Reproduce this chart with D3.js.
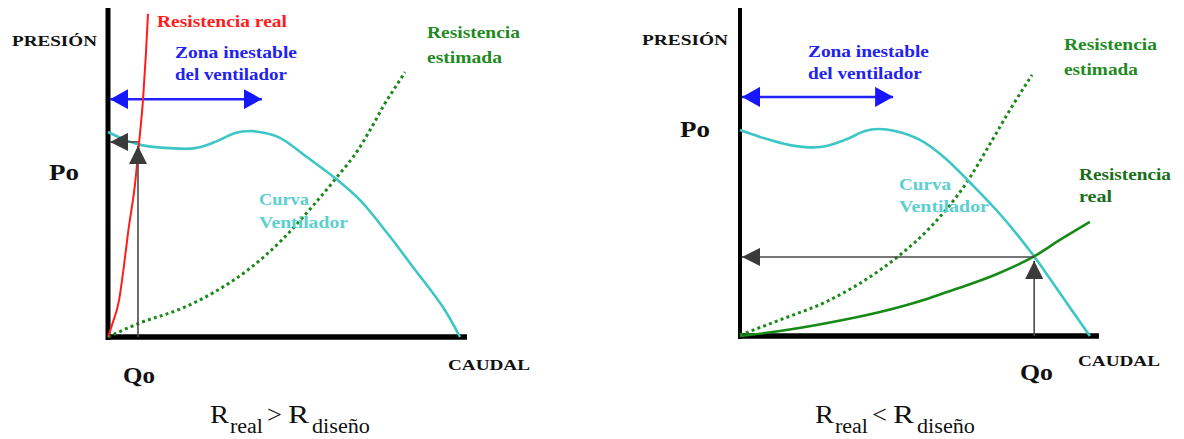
<!DOCTYPE html>
<html>
<head>
<meta charset="utf-8">
<script src="https://cdn.jsdelivr.net/npm/d3@7"></script>
<style>
  html, body { margin: 0; padding: 0; background: #fff; }
  svg { display: block; }
</style>
</head>
<body>
<div id="chart"></div>
<script>
// curves, x = caudal (0-100), y = presion (0-100)
const leftFan = [[0,62.3],[4.8,59.9],[9,58.4],[17.4,57.4],[24.4,57.4],[30,59.3],[35.6,62],[39.8,62.6],[44,62],[48.2,60.5],[55.7,54.7],[63.6,48.3],[70.6,41.6],[78.2,31.6],[85.4,21.3],[93.8,9.1],[98.6,0]];
const leftEstimated = [[0,0],[4.2,2.1],[9,4.3],[20.2,8.5],[29.4,13.4],[39.2,20.4],[48.7,29.5],[57.1,39.5],[63.9,48.3],[70,56.8],[74.5,65],[77.3,70.5],[80.7,76.3],[83.2,80.5]];
const leftReal = [[0,0],[1.1,3.6],[3.1,11.2],[4.5,21.9],[5.6,31.6],[7.6,46.8],[8.7,59],[9.8,72],[10.6,85.7],[11.2,98.2]];
const leftOperating = [8.4, 59.3];

const rightFan = [[0,62.8],[5.6,60.7],[14,58.2],[22.4,57.6],[29.4,59.8],[35,62.5],[38.7,63.1],[43.4,62.5],[50.4,59.8],[57.4,54.3],[64.4,46.8],[72.8,37.2],[82.1,24.7],[89.6,13.1],[98,0]];
const rightEstimated = [[0,0.3],[11.2,4.9],[25.2,11],[39.2,20.1],[44.8,24.7],[53.2,33],[63.6,47],[70,58.5],[75.6,68.9],[81.8,79.6]];
const rightReal = [[0,0],[11.2,1.5],[25.2,4.1],[39.2,7.3],[53.2,11.6],[58,13.4],[72,18.9],[82.1,24.1],[89.6,29.3],[98,34.8]];
const rightOperating = [82.4, 24.1];

// zona inestable: from x to x at pressure y
const leftUnstable = [0, 43.1, 72.3];
const rightUnstable = [0, 42.9, 72.9];

const W = 1184, H = 439;
const svg = d3.select("#chart").append("svg")
  .attr("width", W).attr("height", H);

const defs = svg.append("defs");
function marker(id, color, w, h) {
  defs.append("marker")
    .attr("id", id)
    .attr("viewBox", `0 0 ${w} ${h}`)
    .attr("refX", w).attr("refY", h / 2)
    .attr("markerWidth", w).attr("markerHeight", h)
    .attr("markerUnits", "userSpaceOnUse")
    .attr("orient", "auto-start-reverse")
    .append("path")
    .attr("d", `M0,0L${w},${h / 2}L0,${h}Z`)
    .attr("fill", color);
}
marker("blueHead", "#1616ff", 18, 20);
marker("grayHead", "#3a3a3a", 18, 18);

// text stretched horizontally to the width seen in the picture
function label(txt, x, y, size, color, len, weight) {
  const t = svg.append("text")
    .attr("font-size", size)
    .style("font-family", '"Liberation Serif"')
    .style("font-weight", weight || "bold")
    .attr("fill", color)
    .text(txt);
  let sx = 1;
  const w = t.node().getComputedTextLength();
  if (len && w > 0) sx = len / w;
  t.attr("transform", `translate(${x},${y}) scale(${sx.toFixed(3)},1)`);
  return t;
}

function drawPanel(p) {
  const x = d3.scaleLinear().domain([0, 100]).range(p.xRange);
  const y = d3.scaleLinear().domain([0, 100]).range(p.yRange);
  const smooth = d3.line().x(d => x(d[0])).y(d => y(d[1])).curve(d3.curveCatmullRom.alpha(0.5));
  const mono = d3.line().x(d => x(d[0])).y(d => y(d[1])).curve(d3.curveMonotoneX);
  const g = svg.append("g");

  // axes
  g.append("line")
    .attr("x1", x(0)).attr("x2", x(0))
    .attr("y1", p.axisTop).attr("y2", y(0) + 3)
    .attr("stroke", "#000").attr("stroke-width", p.vAxisWidth);
  g.append("line")
    .attr("x1", x(0) - 2).attr("x2", x(100) + 2)
    .attr("y1", y(0)).attr("y2", y(0))
    .attr("stroke", "#000").attr("stroke-width", 5.5);

  // unstable zone arrow
  g.append("line")
    .attr("x1", x(p.unstable[0]) + 2).attr("x2", x(p.unstable[1]))
    .attr("y1", y(p.unstable[2])).attr("y2", y(p.unstable[2]))
    .attr("stroke", "#2222ff").attr("stroke-width", 2.5)
    .attr("marker-start", "url(#blueHead)")
    .attr("marker-end", "url(#blueHead)");

  // estimated resistance (dotted)
  g.append("path").datum(p.estimated)
    .attr("d", mono).attr("fill", "none")
    .attr("stroke", "#1b8a1b").attr("stroke-width", 3)
    .attr("stroke-dasharray", "3,3.2");

  // fan curve
  g.append("path").datum(p.fan)
    .attr("d", smooth).attr("fill", "none")
    .attr("stroke", "#3ec6c6").attr("stroke-width", 2.6);

  // real resistance
  g.append("path").datum(p.real)
    .attr("d", mono).attr("fill", "none")
    .attr("stroke", p.realColor).attr("stroke-width", p.realWidth);

  // operating point arrows
  const [qo, po] = p.operating;
  g.append("line")
    .attr("x1", x(qo)).attr("x2", x(qo))
    .attr("y1", y(0)).attr("y2", y(po) + 4)
    .attr("stroke", "#4a4a4a").attr("stroke-width", 1.6)
    .attr("marker-end", "url(#grayHead)");
  g.append("line")
    .attr("x1", x(qo)).attr("x2", x(0) + 2)
    .attr("y1", y(po)).attr("y2", y(po))
    .attr("stroke", "#4a4a4a").attr("stroke-width", 1.6)
    .attr("marker-end", "url(#grayHead)");
}

drawPanel({
  xRange: [108, 465], yRange: [337, 8], axisTop: 8, vAxisWidth: 5,
  fan: leftFan, estimated: leftEstimated, real: leftReal,
  realColor: "#ff1c1c", realWidth: 2, operating: leftOperating, unstable: leftUnstable
});
drawPanel({
  xRange: [740, 1097], yRange: [336, 8], axisTop: 8, vAxisWidth: 4,
  fan: rightFan, estimated: rightEstimated, real: rightReal,
  realColor: "#168a16", realWidth: 2.6, operating: rightOperating, unstable: rightUnstable
});

// left labels
label("PRESIÓN", 12, 46, 15, "#111", 85);
label("Po", 49, 180, 24, "#111", 30);
label("Qo", 123, 383, 24, "#111", 32);
label("CAUDAL", 448, 370, 15, "#111", 82);
label("Resistencia real", 157, 27, 17, "#ff1c1c", 130);
label("Zona inestable", 175, 58, 17, "#2222ee", 122);
label("del ventilador", 175, 80, 17, "#2222ee", 112);
label("Resistencia", 427, 38, 16, "#1f8a1f", 93);
label("estimada", 427, 63, 16, "#1f8a1f", 75);
label("Curva", 259, 205, 16, "#5ccfcf", 50);
label("Ventilador", 259, 228, 16, "#5ccfcf", 89);

// right labels
label("PRESIÓN", 642, 45, 15, "#111", 86);
label("Po", 680, 137, 24, "#111", 30);
label("Qo", 1020, 380, 24, "#111", 33);
label("CAUDAL", 1078, 366, 15, "#111", 82);
label("Zona inestable", 808, 57, 17, "#2222ee", 121);
label("del ventilador", 808, 79, 17, "#2222ee", 114);
label("Resistencia", 1064, 50, 16, "#1f8a1f", 93);
label("estimada", 1064, 75, 16, "#1f8a1f", 74);
label("Resistencia", 1079, 180, 16, "#1a6e1a", 92);
label("real", 1079, 202, 16, "#1a6e1a", 33);
label("Curva", 899, 190, 16, "#5ccfcf", 52);
label("Ventilador", 899, 212, 16, "#5ccfcf", 90);

// formulas
function formula(x0, sign) {
  label("R", x0, 423, 26, "#111", 19, "normal");
  label("real", x0 + 20, 433, 20, "#111", 33, "normal");
  label(sign, x0 + 57, 423, 26, "#111", 15, "normal");
  label("R", x0 + 78, 423, 26, "#111", 21, "normal");
  label("diseño", x0 + 102, 433, 20, "#111", 58, "normal");
}
formula(210, ">");
formula(815, "<");
</script>
</body>
</html>
